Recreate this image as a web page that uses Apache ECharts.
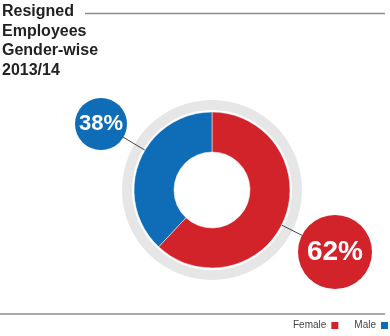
<!DOCTYPE html>
<html>
<head>
<meta charset="utf-8">
<script src="https://cdn.jsdelivr.net/npm/echarts@6/dist/echarts.min.js"></script>
<style>
html,body{margin:0;padding:0;background:#fff;}
#c{width:390px;height:336px;}
</style>
</head>
<body>
<div id="c"></div>
<script>
const titleLines = ['Resigned', 'Employees', 'Gender-wise', '2013/14'];
const categories = ['Female', 'Male'];
const values = [62, 38];
const colors = ['#d2232a', '#0e6db6'];

const CX = 212, CY = 190;
const labelCenters = [[335, 252], [101, 124]];
const labelRadius = [37, 26];
const labelFont = [28, 22];

const chart = echarts.init(document.getElementById('c'), null, {renderer: 'canvas'});

const pieData = categories.map((name, i) => ({
  name: name,
  value: values[i],
  itemStyle: {color: colors[i]},
  label: {
    width: labelRadius[i] * 2,
    height: labelRadius[i] * 2,
    lineHeight: labelRadius[i] * 2,
    borderRadius: labelRadius[i],
    backgroundColor: colors[i],
    fontSize: labelFont[i]
  }
}));

chart.setOption({
  animation: false,
  title: {
    text: titleLines.join('\n'),
    left: 2,
    top: 2,
    padding: 0,
    textStyle: {
      fontFamily: 'Liberation Sans, Arial, sans-serif',
      fontWeight: 'bold',
      fontSize: 16,
      lineHeight: 19.5,
      color: '#222'
    }
  },
  legend: {
    data: categories,
    left: 293,
    top: 320,
    align: 'right',
    icon: 'rect',
    itemWidth: 9,
    itemHeight: 9,
    itemGap: 14,
    padding: 0,
    selectedMode: false,
    textStyle: {
      fontFamily: 'Liberation Sans, Arial, sans-serif',
      fontSize: 10,
      color: '#444',
      padding: [0, -1, 0, 0]
    }
  },
  graphic: [
    {type: 'line', shape: {x1: 85, y1: 13.5, x2: 385, y2: 13.5}, style: {stroke: '#8c8c8c', lineWidth: 1.5}},
    {type: 'line', shape: {x1: 0, y1: 314, x2: 385, y2: 314}, style: {stroke: '#8c8c8c', lineWidth: 1.5}}
  ],
  series: [
    {
      type: 'pie',
      silent: true,
      center: [CX, CY],
      radius: [80, 90],
      z: 1,
      label: {show: false},
      labelLine: {show: false},
      itemStyle: {color: '#e6e6e6'},
      data: [{name: 'ring', value: 1}]
    },
    {
      type: 'pie',
      center: [CX, CY],
      radius: [38, 78],
      startAngle: 90,
      clockwise: true,
      z: 2,
      itemStyle: {borderColor: '#fff', borderWidth: 0.5},
      label: {
        show: true,
        position: 'outside',
        formatter: '{d}%',
        color: '#fff',
        fontWeight: 'bold',
        fontFamily: 'Liberation Sans, Arial, sans-serif',
        align: 'center',
        verticalAlign: 'middle',
        padding: 0
      },
      labelLine: {
        show: true,
        lineStyle: {color: '#444', width: 1}
      },
      labelLayout: function (params) {
        const i = params.dataIndex;
        const lc = labelCenters[i];
        const dx = lc[0] - CX, dy = lc[1] - CY;
        const d = Math.sqrt(dx * dx + dy * dy);
        const p0 = [CX + dx / d * 78, CY + dy / d * 78];
        const pm = [(p0[0] + lc[0]) / 2, (p0[1] + lc[1]) / 2];
        return {
          x: lc[0],
          y: lc[1],
          align: 'center',
          verticalAlign: 'middle',
          labelLinePoints: [p0, pm, lc]
        };
      },
      data: pieData
    }
  ]
});
</script>
</body>
</html>
